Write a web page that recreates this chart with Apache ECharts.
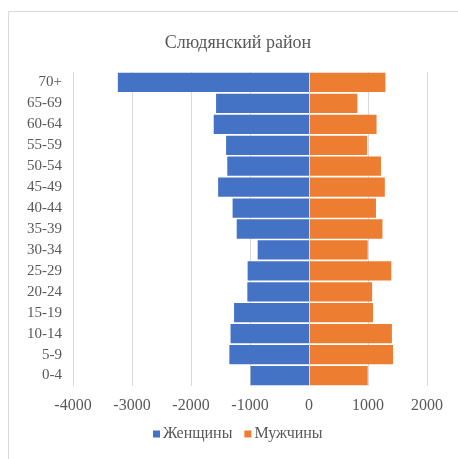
<!DOCTYPE html>
<html><head><meta charset="utf-8">
<script src="https://cdn.jsdelivr.net/npm/echarts@6/dist/echarts.min.js"></script>
<style>html,body{margin:0;padding:0;background:#fff}#c{width:458px;height:459px}</style>
</head><body><div id="c"></div>
<script>
const categories = ['0-4','5-9','10-14','15-19','20-24','25-29','30-34','35-39','40-44','45-49','50-54','55-59','60-64','65-69','70+'];
const women = [-990,-1350,-1330,-1270,-1045,-1040,-870,-1225,-1295,-1540,-1385,-1405,-1615,-1575,-3240];
const men = [995,1425,1405,1085,1070,1395,995,1245,1135,1285,1220,985,1145,820,1295];
const seriesNames = ['Женщины','Мужчины'];
const xTicks = {min:-4000,max:2000,interval:1000};

const font = 'Liberation Serif';
const chart = echarts.init(document.getElementById('c'));
chart.setOption({
  animation:false,
  textStyle:{fontFamily:font},
  graphic:[{type:'rect',shape:{x:8.5,y:11.5,width:460,height:460},style:{fill:'none',stroke:'#d9d9d9',lineWidth:1},silent:true}],
  title:{text:'Слюдянский район',left:233,top:29,textAlign:'center',textStyle:{fontFamily:font,fontSize:18,fontWeight:'normal',color:'#595959'}},
  legend:{data:seriesNames,bottom:12,left:148,itemWidth:7,itemHeight:7,itemGap:12,icon:'rect',
    textStyle:{fontFamily:font,fontSize:16,color:'#595959',padding:[0,0,0,-2]}},
  grid:{left:73,right:31,top:72,bottom:73,containLabel:false},
  xAxis:{type:'value',min:xTicks.min,max:xTicks.max,interval:xTicks.interval,
    axisLine:{show:false},axisTick:{show:false},
    splitLine:{lineStyle:{color:'#d9d9d9'}},
    axisLabel:{fontFamily:font,fontSize:16,color:'#595959',margin:12,formatter:v=>String(v)}},
  yAxis:{type:'category',data:categories,axisLine:{show:false},axisTick:{show:false},
    axisLabel:{fontFamily:font,fontSize:15,color:'#595959',margin:11}},
  series:[
    {name:seriesNames[0],type:'bar',stack:'s',data:women,barCategoryGap:'8%',itemStyle:{color:'#4472C4'},
      markLine:{silent:true,symbol:'none',label:{show:false},lineStyle:{color:'#d9d9d9',type:'solid',width:1},data:[{xAxis:0}]}},
    {name:seriesNames[1],type:'bar',stack:'s',data:men,barCategoryGap:'8%',itemStyle:{color:'#ED7D31'}}
  ]
});
</script></body></html>
